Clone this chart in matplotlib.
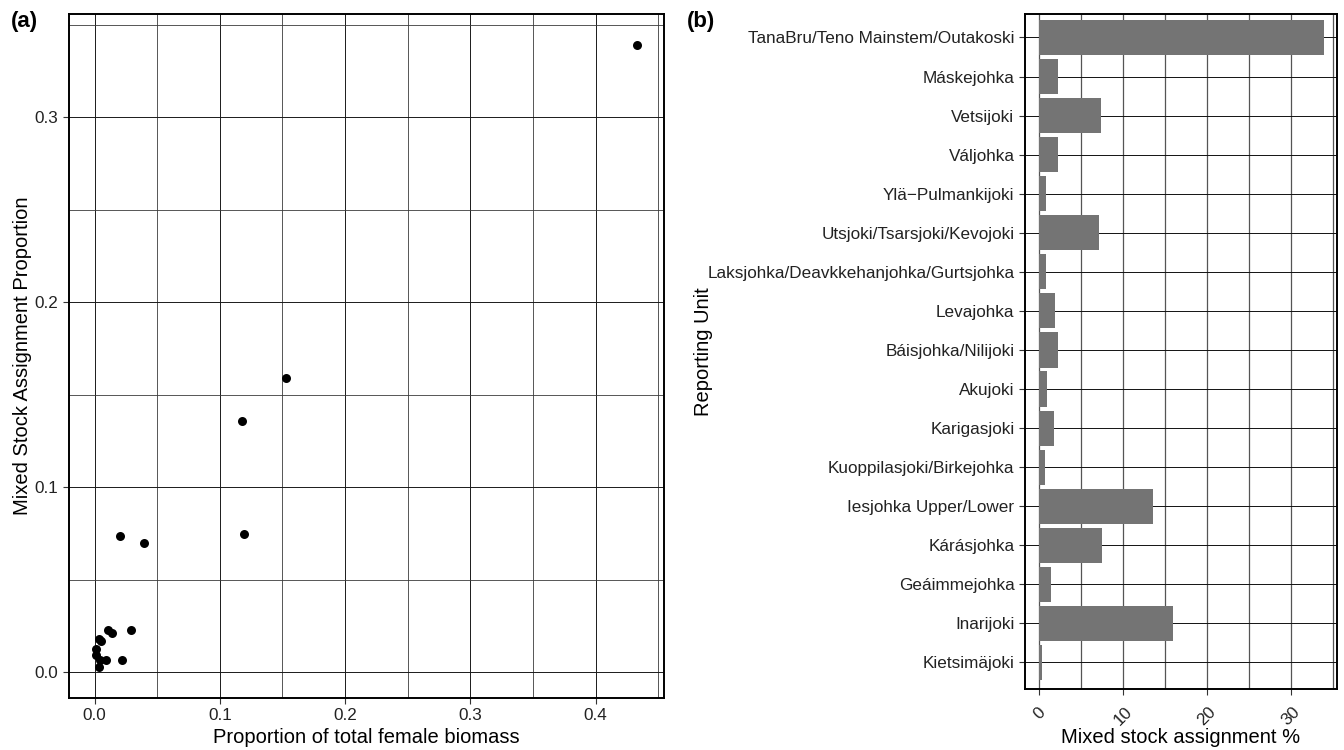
import matplotlib.pyplot as plt
from matplotlib.ticker import MultipleLocator

plt.rcParams['font.family'] = ['Liberation Sans', 'DejaVu Sans']

# panel (a): proportion of total female biomass vs mixed stock assignment proportion
biomass = [0.433, 0.153, 0.1176, 0.1197, 0.0204, 0.0395,
           0.011, 0.0142, 0.029, 0.0032, 0.0052, 0.0012,
           0.0012, 0.004, 0.0092, 0.0222, 0.0033]
assign_prop = [0.339, 0.159, 0.136, 0.075, 0.074, 0.070,
               0.023, 0.0213, 0.023, 0.0180, 0.0170, 0.0128,
               0.0097, 0.0065, 0.0070, 0.0070, 0.0032]

# panel (b): mixed stock assignment % by reporting unit (top to bottom)
units = ['TanaBru/Teno Mainstem/Outakoski', 'Máskejohka', 'Vetsijoki', 'Váljohka',
         'Ylä\u2212Pulmankijoki', 'Utsjoki/Tsarsjoki/Kevojoki',
         'Laksjohka/Deavkkehanjohka/Gurtsjohka', 'Levajohka', 'Báisjohka/Nilijoki',
         'Akujoki', 'Karigasjoki', 'Kuoppilasjoki/Birkejohka', 'Iesjohka Upper/Lower',
         'Kárásjohka', 'Geáimmejohka', 'Inarijoki', 'Kietsimäjoki']
assign_pct = [33.9, 2.3, 7.4, 2.2, 0.8, 7.1, 0.8, 1.9, 2.3, 0.95, 1.8, 0.7,
              13.6, 7.5, 1.4, 16.0, 0.3]

fig = plt.figure(figsize=(13.44, 7.5), dpi=100)
ax1 = fig.add_axes([0.0513, 0.0693, 0.4427, 0.912])
ax2 = fig.add_axes([0.7626, 0.0813, 0.2322, 0.900])

def style(ax):
    for s in ax.spines.values():
        s.set_linewidth(1.4)
        s.set_color('black')
        s.set_zorder(5)
    ax.tick_params(direction='out', length=4, width=0.8, color='#333333',
                   labelsize=12.3, labelcolor='#222222')
    ax.set_axisbelow(True)

# (a)
ax1.scatter(biomass, assign_prop, s=42, color='black', zorder=3, linewidths=0)
ax1.set_xlim(-0.0204, 0.4546)
ax1.set_ylim(-0.0138, 0.3558)
ax1.xaxis.set_major_locator(MultipleLocator(0.1))
ax1.yaxis.set_major_locator(MultipleLocator(0.1))
ax1.xaxis.set_minor_locator(MultipleLocator(0.05))
ax1.yaxis.set_minor_locator(MultipleLocator(0.05))
ax1.tick_params(which='minor', length=0)
ax1.grid(which='major', color='#1a1a1a', linewidth=0.7)
ax1.grid(which='minor', color='#3a3a3a', linewidth=0.6)
ax1.xaxis.set_major_formatter(plt.FuncFormatter(lambda v, p: f'{v:.1f}'))
ax1.yaxis.set_major_formatter(plt.FuncFormatter(lambda v, p: f'{v:.1f}'))
ax1.set_xlabel('Proportion of total female biomass', fontsize=14.5, labelpad=3)
ax1.set_ylabel('Mixed Stock Assignment Proportion', fontsize=14.5, labelpad=2)
style(ax1)

# (b)
ypos = list(range(len(units)))[::-1]
ax2.barh(ypos, assign_pct, height=0.9, color='#747474', zorder=2)
ax2.set_yticks(ypos)
ax2.set_yticklabels(units)
ax2.set_ylim(-0.68, len(units) - 1 + 0.6)
ax2.set_xlim(-1.7, 35.5)
ax2.xaxis.set_major_locator(MultipleLocator(10))
ax2.xaxis.set_minor_locator(MultipleLocator(5))
ax2.tick_params(which='minor', length=0)
ax2.grid(axis='y', which='major', color='#111111', linewidth=0.7)
ax2.grid(axis='x', which='major', color='#555555', linewidth=0.9)
ax2.grid(axis='x', which='minor', color='#555555', linewidth=0.9)
style(ax2)
ax2.tick_params(axis='x', pad=7)
for lab in ax2.get_xticklabels():
    lab.set_rotation(45)
    lab.set_ha('center')
ax2.set_xlabel('Mixed stock assignment %', fontsize=14.5, labelpad=0)
ax2.set_ylabel('Reporting Unit', fontsize=14.5, labelpad=-4)

fig.text(0.008, 0.972, '(a)', fontsize=16, fontweight='bold', va='center')
fig.text(0.511, 0.972, '(b)', fontsize=16, fontweight='bold', va='center')

fig.savefig('out.png', dpi=100)
